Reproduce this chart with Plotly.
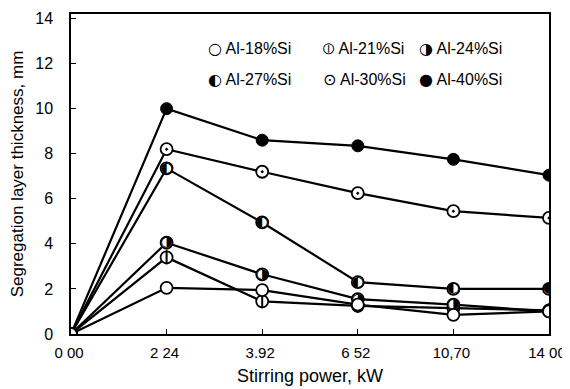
import plotly.graph_objects as go

power_labels = ["0 00", "2 24", "3.92", "6 52", "10,70", "14 00"]
series_names = ["Al-18%Si", "Al-21%Si", "Al-24%Si", "Al-27%Si", "Al-30%Si", "Al-40%Si"]
al18 = [0, 2.05, 1.95, 1.3, 0.85, 1.0]
al21 = [0, 3.4, 1.45, 1.25, 1.15, 1.05]
al24 = [0, 4.05, 2.65, 1.55, 1.3, 1.0]
al27 = [0, 7.35, 4.95, 2.3, 2.0, 2.0]
al30 = [0, 8.2, 7.2, 6.25, 5.45, 5.15]
al40 = [0, 10.0, 8.6, 8.35, 7.75, 7.05]
y_ticks = [0, 2, 4, 6, 8, 10, 12, 14]

xs = list(range(len(power_labels)))
FONT = "Liberation Sans, Arial, sans-serif"

fig = go.Figure()
all_series = [al18, al21, al24, al27, al30, al40]
for vals in all_series:
    fig.add_trace(go.Scatter(x=xs, y=vals, mode="lines",
                             line=dict(color="black", width=2.2), showlegend=False,
                             hoverinfo="skip"))

msize = 12
open_marker = dict(symbol="circle", size=msize, color="white", line=dict(color="black", width=1.8))
# Al-21 circle with vertical bar
fig.add_trace(go.Scatter(x=xs, y=al21, mode="markers", showlegend=False, marker=open_marker))
fig.add_trace(go.Scatter(x=xs, y=al21, mode="markers", showlegend=False,
    marker=dict(symbol="line-ns-open", size=msize - 2, color="black", line=dict(color="black", width=2))))
# Al-24 right half filled, Al-27 left half filled (origin point left to the open circle)
for vals, glyph in [(al24, "◑"), (al27, "◐")]:
    fig.add_trace(go.Scatter(x=xs, y=vals, mode="markers", showlegend=False, marker=open_marker))
    fig.add_trace(go.Scatter(x=xs[1:], y=vals[1:], mode="text", text=[glyph] * (len(vals) - 1),
        textposition="middle center", showlegend=False,
        textfont=dict(family="DejaVu Sans", size=14, color="black")))
# Al-30 circle with dot
fig.add_trace(go.Scatter(x=xs, y=al30, mode="markers", showlegend=False,
    marker=dict(symbol="circle-dot", size=msize, color="white", line=dict(color="black", width=1.8))))
# Al-40 filled
fig.add_trace(go.Scatter(x=xs, y=al40, mode="markers", showlegend=False,
    marker=dict(symbol="circle", size=msize, color="black", line=dict(color="black", width=1))))
# Al-18 open circle (drawn on top, as at the origin in the original)
fig.add_trace(go.Scatter(x=xs, y=al18, mode="markers", showlegend=False, marker=open_marker))

# legend as text annotations
glyphs = ["○", "⦶", "◑", "◐", "⊙", "●"]
col_x = [0.282, 0.524, 0.724]
row_y = [0.891, 0.795]
for i, (g, name) in enumerate(zip(glyphs, series_names)):
    fig.add_annotation(xref="paper", yref="paper", x=col_x[i % 3], y=row_y[i // 3],
                       xanchor="left", yanchor="middle", showarrow=False,
                       text=f"<span style='font-family:DejaVu Sans'>{g}</span> {name}",
                       font=dict(family=FONT, size=16, color="black"))

# the page body adds an 8px margin, so the figure is sized to fit inside the window
fig.update_layout(
    width=562, height=381,
    margin=dict(l=63, r=21, t=2, b=55),
    paper_bgcolor="white", plot_bgcolor="white",
    font=dict(family=FONT, size=16, color="black"),
    xaxis=dict(range=[0, 5], tickvals=xs, ticktext=power_labels,
               tickfont=dict(size=15),
               showline=True, linecolor="black", linewidth=1.5, mirror=True,
               ticks="inside", ticklen=5, tickcolor="black", showgrid=False, zeroline=False,
               ticklabelstandoff=4, ticklabelshift=-2,
               title=dict(text="Stirring power, kW", font=dict(size=18), standoff=10)),
    yaxis=dict(range=[0, 14.2], tickvals=y_ticks,
               showline=True, linecolor="black", linewidth=1.5, mirror=True,
               ticks="inside", ticklen=5, tickcolor="black", showgrid=False, zeroline=False,
               ticklabelstandoff=13,
               title=dict(text="Segregation layer thickness, mm", font=dict(size=17), standoff=7)),
)

fig.write_html("out.html")
